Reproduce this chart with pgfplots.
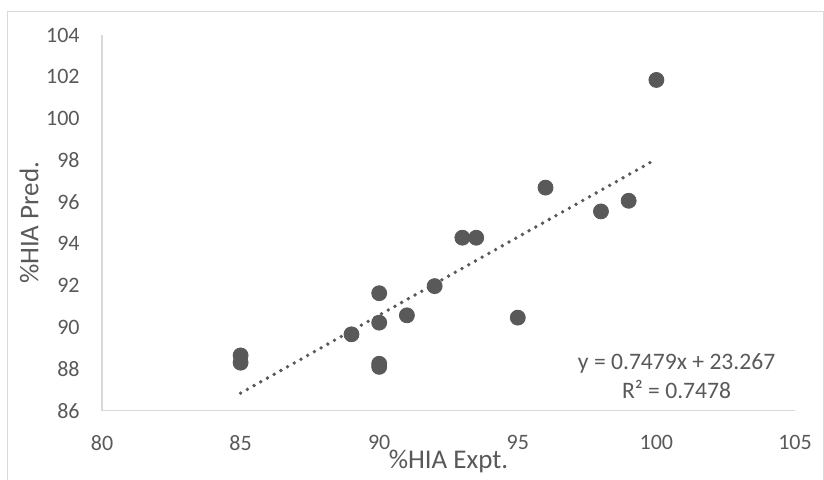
\documentclass[border=0pt]{standalone}
\usepackage{pgfplots}
\pgfplotsset{compat=1.18}
\usepackage{fontspec}
\setmainfont{Carlito}
\definecolor{txt}{HTML}{595959}
\definecolor{axl}{HTML}{D9D9D9}
\definecolor{mk}{HTML}{595959}
\begin{document}
\fontsize{10.8pt}{13pt}\selectfont
\begin{tikzpicture}
\useasboundingbox (-51pt,-34.65pt) rectangle (361pt,205.35pt);
\draw[axl, line width=0.5pt] (-47pt,-40pt) rectangle (360.7pt,199.5pt);
\begin{axis}[
  scale only axis,
  width=346.5pt, height=187.8pt,
  xmin=80, xmax=105, ymin=86, ymax=104,
  xtick={80,85,...,105}, ytick={86,88,...,104},
  axis x line*=bottom, axis y line*=left,
  axis line style={draw=axl, line width=0.8pt, -},
  major tick length=0pt,
  tick label style={font=\fontsize{11pt}{13pt}\selectfont, text=txt},
  /pgf/number format/assume math mode=true,
  xticklabel style={anchor=north, inner sep=0pt, yshift=-12pt},
  yticklabel style={anchor=east, inner sep=0pt, xshift=-11pt},
  xlabel={\%HIA Expt.}, ylabel={\%HIA Pred.},
  label style={font=\fontsize{13.5pt}{16pt}\selectfont, text=txt},
  xlabel style={at={(axis description cs:0.5,0)}, anchor=center, yshift=-25.6pt},
  ylabel style={at={(axis description cs:0,0.5)}, anchor=center, yshift=36.5pt},
  clip=false,
]
\addplot[only marks, mark=*, mark size=3.75pt, mark options={draw=mk, fill=mk}] coordinates {
(85,88.65) (85,88.3) (89,89.66) (90,91.63) (90,90.22) (90,88.25) (90,88.1)
(91,90.57) (92,91.97) (93,94.29) (93.5,94.29) (95,90.46) (96,96.69)
(98,95.55) (99,96.06) (100,101.85)
};
\addplot[mk, line width=1.9pt, line cap=round, dash pattern=on 0pt off 3.85pt] coordinates {
(85,86.84) (100,98.06)
};
\node[text=txt, align=center, font=\fontsize{11.8pt}{14.5pt}\selectfont] at (axis cs:100.73,87.64) {y = 0.7479x + 23.267\\R² = 0.7478};
\end{axis}
\end{tikzpicture}
\end{document}
